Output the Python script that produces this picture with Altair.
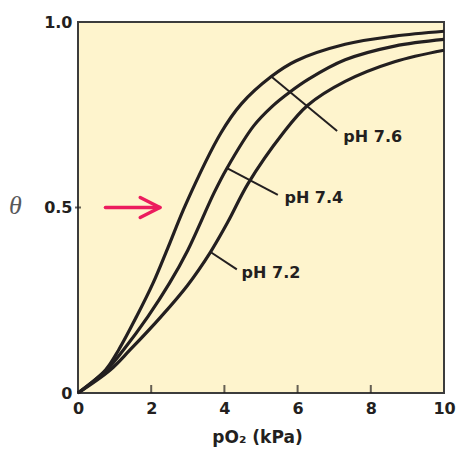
import altair as alt
import pandas as pd

# --- curve data (pO2 in kPa, theta = fractional saturation)
po2_76 = [0, 0.75, 1.11, 1.60, 2.05, 2.45, 2.95, 3.90, 4.47, 5.28, 5.95, 7.30, 8.65, 10.0]
theta_76 = [0, 0.062, 0.116, 0.206, 0.296, 0.390, 0.510, 0.700, 0.780, 0.853, 0.895, 0.940, 0.962, 0.975]
po2_74 = [0, 0.78, 1.24, 1.91, 2.50, 3.00, 3.72, 4.07, 4.80, 5.30, 5.80, 6.30, 7.30, 8.65, 10.0]
theta_74 = [0, 0.062, 0.116, 0.206, 0.296, 0.385, 0.540, 0.606, 0.720, 0.772, 0.812, 0.846, 0.898, 0.935, 0.953]
po2_72 = [0, 0.88, 1.42, 2.27, 2.99, 3.62, 4.10, 4.65, 5.60, 6.27, 7.30, 8.65, 10.0]
theta_72 = [0, 0.062, 0.116, 0.206, 0.290, 0.380, 0.462, 0.565, 0.700, 0.775, 0.840, 0.893, 0.924]

# --- curve labels and leader lines
label_text = ["pH 7.6", "pH 7.4", "pH 7.2"]
label_x = [7.25, 5.64, 4.47]
label_y = [0.677, 0.511, 0.309]
leader_x = [5.28, 4.07, 3.62]
leader_y = [0.853, 0.606, 0.380]
leader_x2 = [7.08, 5.46, 4.34]
leader_y2 = [0.706, 0.534, 0.333]

# --- red arrow (shaft + two head strokes)
arrow_x = [0.75, 1.70, 1.70]
arrow_y = [0.5, 0.527, 0.473]
arrow_x2 = [2.22, 2.24, 2.24]
arrow_y2 = [0.5, 0.5, 0.5]

# --- ticks
x_ticks = [0, 2, 4, 6, 8, 10]
x_inner_ticks = [2, 4, 6, 8]
y_ticks = [0, 0.5, 1.0]
y_marked_tick = [0.5]

INK = "#231f20"
FONT = "DejaVu Sans"

curves = pd.concat([
    pd.DataFrame({"po2": po2_76, "theta": theta_76, "series": "pH 7.6"}),
    pd.DataFrame({"po2": po2_74, "theta": theta_74, "series": "pH 7.4"}),
    pd.DataFrame({"po2": po2_72, "theta": theta_72, "series": "pH 7.2"}),
])
labels = pd.DataFrame({"text": label_text, "x": label_x, "y": label_y})
leaders = pd.DataFrame({"x": leader_x, "y": leader_y, "x2": leader_x2, "y2": leader_y2})
arrow = pd.DataFrame({"x": arrow_x, "y": arrow_y, "x2": arrow_x2, "y2": arrow_y2})
xt = pd.DataFrame({"x": x_inner_ticks, "y": [0] * len(x_inner_ticks)})
yt = pd.DataFrame({"y": y_marked_tick, "x": [0] * len(y_marked_tick)})

xs = alt.Scale(domain=[0, 10], nice=False)
ys = alt.Scale(domain=[0, 1], nice=False)

x_axis = alt.Axis(
    values=x_ticks, format="d", ticks=False, tickSize=0, domain=False, grid=False,
    labelFont=FONT, labelFontWeight="bold", labelFontSize=16, labelColor=INK,
    labelPadding=7, labelFlush=False,
    title="pO₂ (kPa)", titleFont=FONT, titleFontWeight="bold", titleFontSize=17,
    titleColor=INK, titleX=179, titleY=49, titleBaseline="alphabetic", titleAlign="center",
)
y_axis = alt.Axis(
    values=y_ticks, ticks=False, tickSize=0, domain=False, grid=False,
    labelExpr="datum.value == 0 ? '0' : format(datum.value, '.1f')",
    labelFont=FONT, labelFontWeight="bold", labelFontSize=16, labelColor=INK,
    labelPadding=6, labelFlush=False,
    title="θ", titleFont="Liberation Serif", titleFontStyle="italic", titleFontWeight="normal",
    titleFontSize=26, titleColor="#58585a", titleAngle=0, titleX=-63, titleY=191,
    titleAlign="center", titleBaseline="alphabetic",
)


def X(field):
    return alt.X(field, scale=xs, axis=x_axis)


def Y(field):
    return alt.Y(field, scale=ys, axis=y_axis)


curve_layer = alt.Chart(curves).mark_line(
    interpolate="catmull-rom", color=INK, strokeWidth=3.2
).encode(x=X("po2:Q"), y=Y("theta:Q"), detail="series:N")

leader_layer = alt.Chart(leaders).mark_rule(color=INK, strokeWidth=2).encode(
    x=X("x:Q"), y=Y("y:Q"), x2="x2:Q", y2="y2:Q",
)

label_layer = alt.Chart(labels).mark_text(
    font=FONT, fontWeight="bold", fontSize=16, color=INK, align="left", baseline="alphabetic"
).encode(x=X("x:Q"), y=Y("y:Q"), text="text:N")

arrow_layer = alt.Chart(arrow).mark_rule(color="#ec1c5e", strokeWidth=3.5, strokeCap="round").encode(
    x=X("x:Q"), y=Y("y:Q"), x2="x2:Q", y2="y2:Q",
)

xtick_layer = alt.Chart(xt).mark_tick(orient="vertical", size=8, thickness=2, color=INK, yOffset=-4).encode(
    x=X("x:Q"), y=Y("y:Q"),
)
ytick_layer = alt.Chart(yt).mark_tick(orient="horizontal", size=6, thickness=2, color=INK).encode(
    x=X("x:Q"), y=Y("y:Q"),
)

chart = alt.layer(
    curve_layer, leader_layer, label_layer, arrow_layer, xtick_layer, ytick_layer
).properties(
    width=366, height=371,
    autosize=alt.AutoSizeParams(type="none"),
    padding={"left": 70, "top": 14, "right": 12, "bottom": 55},
).configure_view(
    fill="#fef4cd", stroke="#3c3c3c", strokeWidth=2
)

chart.save("out.html", embed_options={"renderer": "svg", "actions": False})
